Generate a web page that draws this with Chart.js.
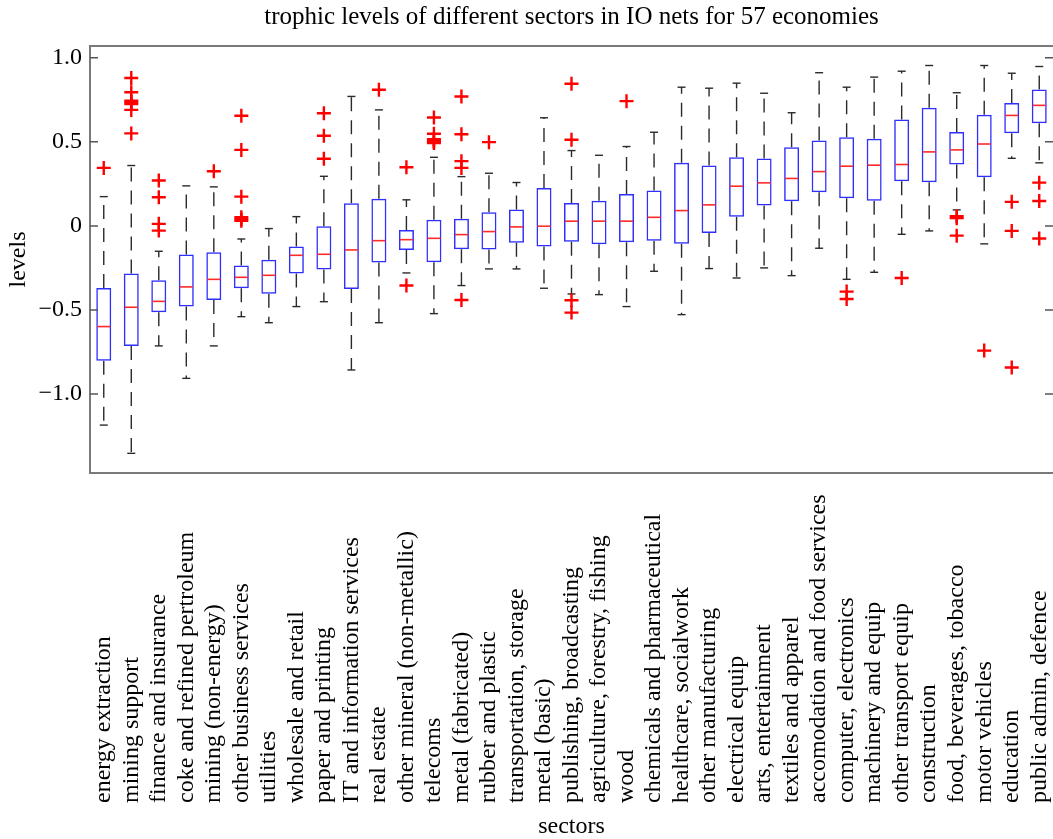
<!DOCTYPE html>
<html>
<head>
<meta charset="utf-8">
<title>Trophic levels of different sectors</title>
<script src="https://cdn.jsdelivr.net/npm/chart.js@4.4.1/dist/chart.umd.min.js"></script>
<style>
  html, body { margin: 0; padding: 0; background: #fff; overflow: hidden; }
  canvas { display: block; }
</style>
</head>
<body>
<canvas id="chart" width="1053" height="839"></canvas>
<script>
// Sectors, ordered by median trophic level
const sectors = [
  'energy extraction', 'mining support', 'finance and insurance', 'coke and refined pertroleum',
  'mining (non-energy)', 'other business services', 'utilities', 'wholesale and retail',
  'paper and printing', 'IT and information services', 'real estate', 'other mineral (non-metallic)',
  'telecoms', 'metal (fabricated)', 'rubber and plastic', 'transportation, storage',
  'metal (basic)', 'publishing, broadcasting', 'agriculture, forestry, fishing', 'wood',
  'chemicals and pharmaceutical', 'healthcare, socialwork', 'other manufacturing', 'electrical equip',
  'arts, entertainment', 'textiles and apparel', 'accomodation and food services', 'computer, electronics',
  'machinery and equip', 'other transport equip', 'construction', 'food, beverages, tobacco',
  'motor vehicles', 'education', 'public admin, defence'
];

// Box-plot statistics per sector
const whiskerLow = [
  -1.185, -1.353, -0.714, -0.907, -0.714, -0.540, -0.576, -0.480, -0.451, -0.857,
  -0.576, -0.280, -0.522, -0.355, -0.256, -0.256, -0.371, -0.405, -0.409, -0.480,
  -0.270, -0.528, -0.254, -0.310, -0.250, -0.296, -0.133, -0.318, -0.276, -0.050,
  -0.030, 0.095, -0.107, 0.402, 0.375
];
const quartileLow = [
  -0.802, -0.714, -0.514, -0.480, -0.441, -0.371, -0.403, -0.284, -0.260, -0.375,
  -0.218, -0.143, -0.216, -0.139, -0.141, -0.101, -0.123, -0.095, -0.110, -0.097,
  -0.088, -0.107, -0.042, 0.055, 0.121, 0.146, 0.200, 0.164, 0.149, 0.266,
  0.260, 0.365, 0.289, 0.551, 0.611
];
const medians = [
  -0.599, -0.484, -0.449, -0.363, -0.318, -0.306, -0.294, -0.175, -0.169, -0.143,
  -0.088, -0.082, -0.074, -0.052, -0.034, -0.006, -0.002, 0.028, 0.028, 0.028,
  0.051, 0.091, 0.125, 0.236, 0.256, 0.282, 0.323, 0.355, 0.361, 0.365,
  0.440, 0.452, 0.487, 0.657, 0.717
];
const quartileHigh = [
  -0.369, -0.284, -0.324, -0.171, -0.157, -0.236, -0.202, -0.123, -0.002, 0.135,
  0.161, -0.024, 0.036, 0.042, 0.081, 0.097, 0.226, 0.136, 0.150, 0.190,
  0.210, 0.375, 0.359, 0.408, 0.401, 0.468, 0.508, 0.527, 0.518, 0.633,
  0.702, 0.558, 0.661, 0.731, 0.811
];
const whiskerHigh = [
  0.174, 0.359, -0.151, 0.238, 0.232, -0.078, -0.016, 0.055, 0.295, 0.770,
  0.690, 0.155, 0.408, 0.293, 0.313, 0.258, 0.643, 0.448, 0.420, 0.472,
  0.557, 0.825, 0.819, 0.849, 0.789, 0.673, 0.911, 0.825, 0.885, 0.920,
  0.954, 0.792, 0.954, 0.908, 0.948
];
const outliers = [
  [0.345],
  [0.880, 0.795, 0.745, 0.735, 0.725, 0.690, 0.550],
  [0.270, 0.170, 0.012, -0.028],
  [],
  [0.325],
  [0.655, 0.452, 0.174, 0.052, 0.040, 0.030],
  [],
  [],
  [0.670, 0.536, 0.399],
  [],
  [0.810],
  [0.349, -0.355],
  [0.645, 0.548, 0.515, 0.507, 0.500, 0.493],
  [0.770, 0.545, 0.385, 0.345, -0.441],
  [0.498],
  [],
  [],
  [0.845, 0.512, -0.442, -0.516],
  [],
  [0.742],
  [],
  [],
  [],
  [],
  [],
  [],
  [],
  [-0.391, -0.435],
  [],
  [-0.310],
  [],
  [0.057, 0.046, -0.058],
  [-0.742],
  [0.143, -0.030, -0.842],
  [0.257, 0.148, -0.075]
];

// Value axis ticks
const yTickValues = [-1, -0.5, 0, 0.5, 1];
const yTickLabels = ['\u22121.0', '\u22120.5', '0', '0.5', '1.0'];

const FONT = "'Liberation Serif', 'Times New Roman', Times, serif";
const BOX_BLUE = '#2f2fff';
const MEDIAN_RED = '#ff2a2a';
const WHISKER = '#2a2a2a';

const outlierPoints = [];
outliers.forEach((vals, i) => vals.forEach(v => outlierPoints.push({ x: sectors[i], y: v })));

// Whiskers, caps, medians, axes frame and rotated sector names
const boxParts = {
  id: 'boxParts',
  beforeDatasetsDraw(chart) {
    const { ctx, scales: { x, y } } = chart;
    const capHalf = 4;
    ctx.save();
    ctx.strokeStyle = WHISKER;
    ctx.lineWidth = 1.4;
    sectors.forEach((s, i) => {
      const cx = x.getPixelForValue(i);
      const segs = [
        [quartileHigh[i], whiskerHigh[i]],
        [quartileLow[i], whiskerLow[i]]
      ];
      segs.forEach(([from, to]) => {
        ctx.setLineDash([14, 9]);
        ctx.beginPath();
        ctx.moveTo(cx, y.getPixelForValue(from));
        ctx.lineTo(cx, y.getPixelForValue(to));
        ctx.stroke();
        ctx.setLineDash([]);
        const yc = y.getPixelForValue(to);
        ctx.beginPath();
        ctx.moveTo(cx - capHalf, yc);
        ctx.lineTo(cx + capHalf, yc);
        ctx.stroke();
      });
    });
    ctx.restore();
  },
  afterDatasetsDraw(chart) {
    const { ctx, scales: { x, y } } = chart;
    const bars = chart.getDatasetMeta(0).data;
    ctx.save();
    ctx.strokeStyle = MEDIAN_RED;
    ctx.lineWidth = 1.6;
    sectors.forEach((s, i) => {
      const cx = x.getPixelForValue(i);
      const half = bars[i].width / 2 - 1;
      const ym = y.getPixelForValue(medians[i]);
      ctx.beginPath();
      ctx.moveTo(cx - half, ym);
      ctx.lineTo(cx + half, ym);
      ctx.stroke();
    });
    ctx.restore();
  },
  afterDraw(chart) {
    const { ctx, chartArea: a, scales: { x, y } } = chart;
    ctx.save();
    // frame (the right edge sits on the canvas border)
    ctx.strokeStyle = '#7a7a7a';
    ctx.lineWidth = 2;
    ctx.beginPath();
    ctx.moveTo(a.right + 2, a.top);
    ctx.lineTo(a.left, a.top);
    ctx.lineTo(a.left, a.bottom);
    ctx.lineTo(a.right + 2, a.bottom);
    ctx.stroke();
    // inward tick marks on both sides
    ctx.strokeStyle = '#555';
    ctx.lineWidth = 1.5;
    y.ticks.forEach(t => {
      const py = y.getPixelForValue(t.value);
      ctx.beginPath();
      ctx.moveTo(a.left, py);
      ctx.lineTo(a.left + 8, py);
      ctx.moveTo(a.right, py);
      ctx.lineTo(a.right - 8, py);
      ctx.stroke();
    });
    // sector names, reading upwards from a common base line
    ctx.fillStyle = '#000';
    ctx.font = '24px ' + FONT;
    ctx.textAlign = 'left';
    ctx.textBaseline = 'middle';
    const baseY = x.top + 330;
    sectors.forEach((s, i) => {
      const cx = x.getPixelForValue(i);
      ctx.save();
      ctx.translate(cx, baseY);
      ctx.rotate(-Math.PI / 2);
      ctx.fillText(s, 0, 0);
      ctx.restore();
    });
    ctx.restore();
  }
};

new Chart(document.getElementById('chart'), {
  type: 'bar',
  data: {
    labels: sectors,
    datasets: [
      {
        type: 'bar',
        label: 'interquartile range',
        data: sectors.map((s, i) => [quartileLow[i], quartileHigh[i]]),
        backgroundColor: 'rgba(255,255,255,0)',
        borderColor: BOX_BLUE,
        borderWidth: 1.5,
        borderSkipped: false,
        barPercentage: 0.545,
        categoryPercentage: 1,
        order: 2
      },
      {
        type: 'line',
        label: 'outliers',
        data: outlierPoints,
        showLine: false,
        pointStyle: 'cross',
        pointRadius: 7,
        pointHoverRadius: 7,
        pointBorderColor: '#ff0000',
        pointBackgroundColor: '#ff0000',
        pointBorderWidth: 2.4,
        order: 1
      }
    ]
  },
  options: {
    responsive: false,
    devicePixelRatio: 1,
    animation: false,
    layout: { padding: 0, autoPadding: false },
    plugins: {
      legend: { display: false },
      tooltip: { enabled: false },
      title: {
        display: true,
        fullSize: false,
        text: 'trophic levels of different sectors in IO nets for 57 economies',
        color: '#000',
        font: { family: FONT, size: 25, weight: 'normal', lineHeight: 1.2 },
        padding: { top: 2, bottom: 14 }
      }
    },
    scales: {
      x: {
        type: 'category',
        offset: true,
        grid: { display: false, drawTicks: false },
        border: { display: false },
        ticks: { display: false },
        title: {
          display: true,
          text: 'sectors',
          color: '#000',
          font: { family: FONT, size: 24, lineHeight: 1 },
          padding: { top: 0, bottom: 0 }
        },
        afterFit(scale) { scale.height = 366; }
      },
      y: {
        min: -1.47,
        max: 1.07,
        grid: { display: false, drawTicks: false },
        border: { display: false },
        afterBuildTicks(scale) { scale.ticks = yTickValues.map(v => ({ value: v })); },
        ticks: {
          color: '#000',
          padding: 8,
          font: { family: FONT, size: 24 },
          callback: (v) => yTickLabels[yTickValues.indexOf(v)]
        },
        title: {
          display: true,
          text: 'levels',
          color: '#000',
          font: { family: FONT, size: 24, lineHeight: 1.2 },
          padding: { top: 4, bottom: 0 }
        },
        afterFit(scale) { scale.width = 90; }
      }
    }
  },
  plugins: [boxParts]
});
</script>
</body>
</html>
